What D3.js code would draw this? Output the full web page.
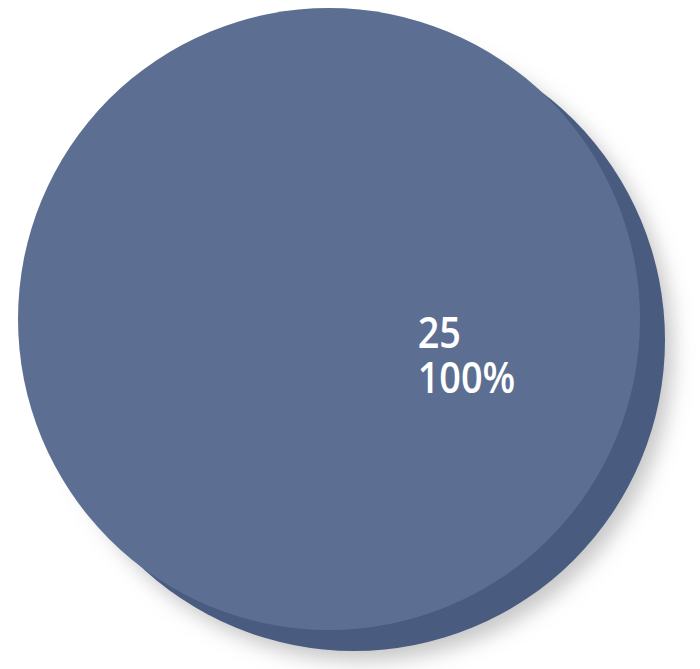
<!DOCTYPE html>
<html>
<head>
<meta charset="utf-8">
<script src="https://cdn.jsdelivr.net/npm/d3@7"></script>
<style>
  html, body { margin: 0; padding: 0; background: #fff; }
  svg { display: block; }
</style>
</head>
<body>
<div id="chart"></div>
<script>
// 数据
const categories = ['Total'];
const values = [25];

const width = 700, height = 669;
// 饼图正面
const cx = 329, cy = 319, r = 311;
// 侧面厚度
const depth = { dx: 25, dy: 21 };
const frontColor = '#5c6f93';
const sideColor = '#4a5b80';

const svg = d3.select('#chart')
  .append('svg')
  .attr('width', width)
  .attr('height', height);

const defs = svg.append('defs');
defs.append('filter')
  .attr('id', 'shadow')
  .attr('x', '-20%').attr('y', '-20%')
  .attr('width', '140%').attr('height', '140%')
  .append('feGaussianBlur')
  .attr('stdDeviation', 10);

const total = d3.sum(values);
const pie = d3.pie().sort(null).value(d => d);
const arcs = pie(values);
const arc = d3.arc().innerRadius(0).outerRadius(r);

// 阴影
svg.append('g')
  .attr('filter', 'url(#shadow)')
  .attr('transform', `translate(${cx + depth.dx + 8},${cy + depth.dy + 10})`)
  .selectAll('path').data(arcs)
  .join('path')
  .attr('d', arc)
  .attr('fill', '#8f8f8f')
  .attr('opacity', 0.5);

// 侧面
svg.append('g')
  .attr('transform', `translate(${cx + depth.dx},${cy + depth.dy})`)
  .selectAll('path').data(arcs)
  .join('path')
  .attr('d', arc)
  .attr('fill', sideColor);

// 正面
svg.append('g')
  .attr('transform', `translate(${cx},${cy})`)
  .selectAll('path').data(arcs)
  .join('path')
  .attr('d', arc)
  .attr('fill', frontColor);

// 标签
const label = svg.append('g')
  .selectAll('text').data(arcs)
  .join('text')
  .attr('transform', `translate(${cx + r * 0.285},${cy + r * 0.093}) scale(0.88,1)`)
  .attr('font-family', '"Open Sans", "DejaVu Sans", sans-serif')
  .attr('font-weight', 600)
  .attr('font-size', '43px')
  .attr('fill', '#ffffff');

label.append('tspan')
  .attr('x', 0).attr('y', 0)
  .text(d => d.data);
label.append('tspan')
  .attr('x', 0).attr('dy', 45)
  .text(d => d3.format('.0%')(d.data / total));
</script>
</body>
</html>
